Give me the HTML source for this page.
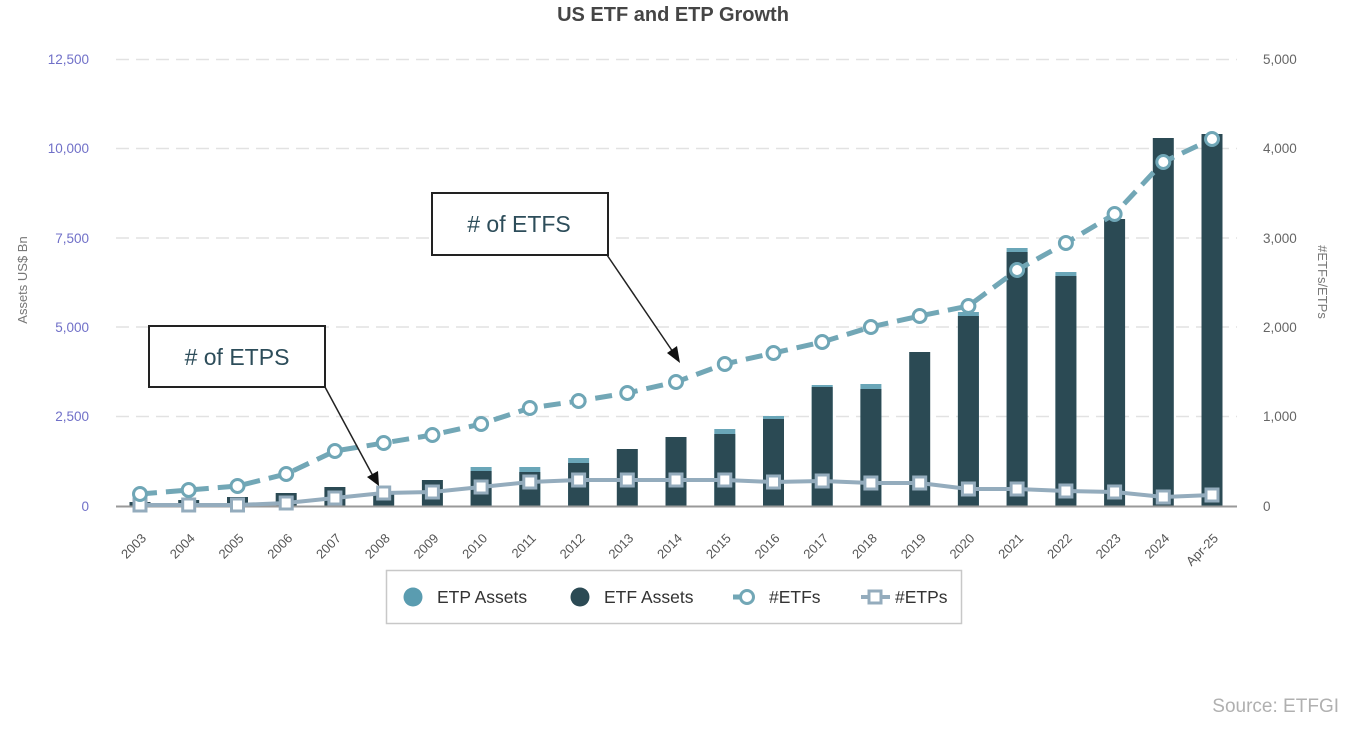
<!DOCTYPE html>
<html><head><meta charset="utf-8"><style>
html,body{margin:0;padding:0;background:#fff;}
svg{display:block;font-family:"Liberation Sans",sans-serif;}
</style></head><body>
<svg width="1364" height="732" viewBox="0 0 1364 732" xmlns="http://www.w3.org/2000/svg">
<rect width="1364" height="732" fill="#fff"/>
<text x="673" y="21" text-anchor="middle" font-size="20" font-weight="bold" fill="#454545">US ETF and ETP Growth</text>
<g stroke="#e2e2e2" stroke-width="1.5" stroke-dasharray="13 7">
<line x1="116" y1="59.5" x2="1237" y2="59.5"/>
<line x1="116" y1="148.5" x2="1237" y2="148.5"/>
<line x1="116" y1="238" x2="1237" y2="238"/>
<line x1="116" y1="327" x2="1237" y2="327"/>
<line x1="116" y1="416.5" x2="1237" y2="416.5"/>
</g>
<g font-size="13.5" fill="#7070c8" text-anchor="end">
<text x="89" y="64">12,500</text>
<text x="89" y="153">10,000</text>
<text x="89" y="243">7,500</text>
<text x="89" y="332">5,000</text>
<text x="89" y="421">2,500</text>
<text x="89" y="511">0</text>
</g>
<g font-size="13.5" fill="#666">
<text x="1263" y="64">5,000</text>
<text x="1263" y="153">4,000</text>
<text x="1263" y="243">3,000</text>
<text x="1263" y="332">2,000</text>
<text x="1263" y="421">1,000</text>
<text x="1263" y="511">0</text>
</g>
<text transform="translate(27,280) rotate(-90)" text-anchor="middle" font-size="13" fill="#777">Assets US$ Bn</text>
<text transform="translate(1318,282) rotate(90)" text-anchor="middle" font-size="13" fill="#777">#ETFs/ETPs</text>
<g fill="#6aa6b8">
<rect x="470.6" y="467" width="21" height="39"/>
<rect x="519.3" y="467" width="21" height="39"/>
<rect x="568.1" y="458" width="21" height="48"/>
<rect x="714.3" y="429" width="21" height="77"/>
<rect x="763" y="416" width="21" height="90"/>
<rect x="811.7" y="385" width="21" height="121"/>
<rect x="860.4" y="384" width="21" height="122"/>
<rect x="957.9" y="312" width="21" height="194"/>
<rect x="1006.6" y="248" width="21" height="258"/>
<rect x="1055.4" y="272" width="21" height="234"/>
</g>
<g fill="#2b4a54">
<rect x="129.5" y="502" width="21" height="4"/>
<rect x="178.2" y="500" width="21" height="6"/>
<rect x="227" y="497" width="21" height="9"/>
<rect x="275.7" y="493" width="21" height="13"/>
<rect x="324.4" y="487" width="21" height="19"/>
<rect x="373.2" y="494" width="21" height="12"/>
<rect x="421.9" y="480" width="21" height="26"/>
<rect x="470.6" y="471" width="21" height="35"/>
<rect x="519.3" y="472" width="21" height="34"/>
<rect x="568.1" y="463" width="21" height="43"/>
<rect x="616.8" y="449" width="21" height="57"/>
<rect x="665.5" y="437" width="21" height="69"/>
<rect x="714.3" y="434" width="21" height="72"/>
<rect x="763" y="419" width="21" height="87"/>
<rect x="811.7" y="387" width="21" height="119"/>
<rect x="860.4" y="389" width="21" height="117"/>
<rect x="909.2" y="352" width="21" height="154"/>
<rect x="957.9" y="316" width="21" height="190"/>
<rect x="1006.6" y="252" width="21" height="254"/>
<rect x="1055.4" y="276" width="21" height="230"/>
<rect x="1104.1" y="219" width="21" height="287"/>
<rect x="1152.8" y="138" width="21" height="368"/>
<rect x="1201.5" y="134" width="21" height="372"/>
</g>
<line x1="116" y1="506.5" x2="1237" y2="506.5" stroke="#999" stroke-width="2"/>
<polyline fill="none" stroke="#94acbd" stroke-width="4" stroke-linejoin="round" points="140,505 188.7,505 237.5,505 286.2,503 334.9,498 383.7,493 432.4,492 481.1,487 529.8,482 578.6,480 627.3,480 676,480 724.8,480 773.5,482 822.2,481 870.9,483 919.7,483 968.4,489 1017.1,489 1065.9,491 1114.6,492 1163.3,497 1212,495"/>
<polyline fill="none" stroke="#72a7b6" stroke-width="5" stroke-dasharray="17 9" points="140,494 188.7,490 237.5,486 286.2,474 334.9,451 383.7,443 432.4,435 481.1,424 529.8,408 578.6,401 627.3,393 676,382 724.8,364 773.5,353 822.2,342 870.9,327 919.7,316 968.4,306 1017.1,270 1065.9,243 1114.6,214 1163.3,162 1212,139"/>
<g fill="#fff" stroke="#94acbd" stroke-width="3">
<rect x="134" y="499" width="12" height="12"/>
<rect x="182.7" y="499" width="12" height="12"/>
<rect x="231.5" y="499" width="12" height="12"/>
<rect x="280.2" y="497" width="12" height="12"/>
<rect x="328.9" y="492" width="12" height="12"/>
<rect x="377.7" y="487" width="12" height="12"/>
<rect x="426.4" y="486" width="12" height="12"/>
<rect x="475.1" y="481" width="12" height="12"/>
<rect x="523.8" y="476" width="12" height="12"/>
<rect x="572.6" y="474" width="12" height="12"/>
<rect x="621.3" y="474" width="12" height="12"/>
<rect x="670" y="474" width="12" height="12"/>
<rect x="718.8" y="474" width="12" height="12"/>
<rect x="767.5" y="476" width="12" height="12"/>
<rect x="816.2" y="475" width="12" height="12"/>
<rect x="864.9" y="477" width="12" height="12"/>
<rect x="913.7" y="477" width="12" height="12"/>
<rect x="962.4" y="483" width="12" height="12"/>
<rect x="1011.1" y="483" width="12" height="12"/>
<rect x="1059.9" y="485" width="12" height="12"/>
<rect x="1108.6" y="486" width="12" height="12"/>
<rect x="1157.3" y="491" width="12" height="12"/>
<rect x="1206" y="489" width="12" height="12"/>
</g>
<g fill="#fff" stroke="#6fa6b6" stroke-width="3">
<circle cx="140" cy="494" r="6.5"/>
<circle cx="188.7" cy="490" r="6.5"/>
<circle cx="237.5" cy="486" r="6.5"/>
<circle cx="286.2" cy="474" r="6.5"/>
<circle cx="334.9" cy="451" r="6.5"/>
<circle cx="383.7" cy="443" r="6.5"/>
<circle cx="432.4" cy="435" r="6.5"/>
<circle cx="481.1" cy="424" r="6.5"/>
<circle cx="529.8" cy="408" r="6.5"/>
<circle cx="578.6" cy="401" r="6.5"/>
<circle cx="627.3" cy="393" r="6.5"/>
<circle cx="676" cy="382" r="6.5"/>
<circle cx="724.8" cy="364" r="6.5"/>
<circle cx="773.5" cy="353" r="6.5"/>
<circle cx="822.2" cy="342" r="6.5"/>
<circle cx="870.9" cy="327" r="6.5"/>
<circle cx="919.7" cy="316" r="6.5"/>
<circle cx="968.4" cy="306" r="6.5"/>
<circle cx="1017.1" cy="270" r="6.5"/>
<circle cx="1065.9" cy="243" r="6.5"/>
<circle cx="1114.6" cy="214" r="6.5"/>
<circle cx="1163.3" cy="162" r="6.5"/>
<circle cx="1212" cy="139" r="6.5"/>
</g>
<g font-size="13" fill="#555" text-anchor="end">
<text transform="translate(147,539) rotate(-45)">2003</text>
<text transform="translate(195.7,539) rotate(-45)">2004</text>
<text transform="translate(244.5,539) rotate(-45)">2005</text>
<text transform="translate(293.2,539) rotate(-45)">2006</text>
<text transform="translate(341.9,539) rotate(-45)">2007</text>
<text transform="translate(390.7,539) rotate(-45)">2008</text>
<text transform="translate(439.4,539) rotate(-45)">2009</text>
<text transform="translate(488.1,539) rotate(-45)">2010</text>
<text transform="translate(536.8,539) rotate(-45)">2011</text>
<text transform="translate(585.6,539) rotate(-45)">2012</text>
<text transform="translate(634.3,539) rotate(-45)">2013</text>
<text transform="translate(683,539) rotate(-45)">2014</text>
<text transform="translate(731.8,539) rotate(-45)">2015</text>
<text transform="translate(780.5,539) rotate(-45)">2016</text>
<text transform="translate(829.2,539) rotate(-45)">2017</text>
<text transform="translate(877.9,539) rotate(-45)">2018</text>
<text transform="translate(926.7,539) rotate(-45)">2019</text>
<text transform="translate(975.4,539) rotate(-45)">2020</text>
<text transform="translate(1024.1,539) rotate(-45)">2021</text>
<text transform="translate(1072.9,539) rotate(-45)">2022</text>
<text transform="translate(1121.6,539) rotate(-45)">2023</text>
<text transform="translate(1170.3,539) rotate(-45)">2024</text>
<text transform="translate(1219,539) rotate(-45)">Apr-25</text>
</g>
<rect x="386.5" y="570.5" width="575" height="53" fill="#fff" stroke="#c8c8c8" stroke-width="1.5"/>
<circle cx="413" cy="597" r="9.5" fill="#5a9cb0"/>
<text x="437" y="603" font-size="17.5" fill="#333">ETP Assets</text>
<circle cx="580" cy="597" r="9.5" fill="#2b4a54"/>
<text x="604" y="603" font-size="17.5" fill="#333">ETF Assets</text>
<line x1="733" y1="597" x2="745" y2="597" stroke="#72a7b6" stroke-width="5"/>
<circle cx="747" cy="597" r="6.5" fill="#fff" stroke="#72a7b6" stroke-width="3"/>
<text x="769" y="603" font-size="17.5" fill="#333">#ETFs</text>
<line x1="861" y1="597" x2="890" y2="597" stroke="#94acbd" stroke-width="4"/>
<rect x="869" y="591" width="12" height="12" fill="#fff" stroke="#94acbd" stroke-width="3"/>
<text x="895" y="603" font-size="17.5" fill="#333">#ETPs</text>
<rect x="432" y="193" width="176" height="62" fill="#fff" stroke="#222" stroke-width="2"/>
<text x="519" y="232" text-anchor="middle" font-size="23" fill="#2d4d5a"># of ETFS</text>
<rect x="149" y="326" width="176" height="61" fill="#fff" stroke="#222" stroke-width="2"/>
<text x="237" y="365" text-anchor="middle" font-size="23" fill="#2d4d5a"># of ETPS</text>
<line x1="607" y1="255" x2="673" y2="352" stroke="#222" stroke-width="1.5"/>
<polygon points="680,363 667,353 677,346" fill="#111"/>
<line x1="325" y1="387" x2="373" y2="476" stroke="#222" stroke-width="1.5"/>
<polygon points="379,486 367,477 378,471" fill="#111"/>
<text x="1339" y="712" text-anchor="end" font-size="19" fill="#b0b0b0">Source: ETFGI</text>
</svg>
</body></html>
